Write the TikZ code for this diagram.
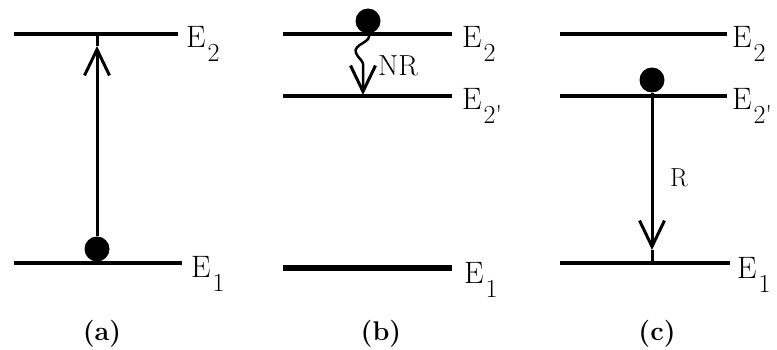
\documentclass[tikz,border=0pt]{standalone}
\usetikzlibrary{arrows.meta}
\newcommand{\lsub}[1]{\hspace{2pt}\raisebox{-14pt}{\fontsize{26}{26}\selectfont #1}}
\begin{document}
\begin{tikzpicture}[x=1pt,y=-1pt,
  level/.style={line width=3.5pt},
  thicklevel/.style={line width=6pt},
  trans/.style={line width=3pt},
  wavy/.style={line width=2.5pt},
  dot/.style={circle,fill=black,inner sep=0pt,minimum size=25pt},
  elabel/.style={anchor=base west,inner sep=0pt,font=\fontsize{31}{31}\selectfont},
  plabel/.style={anchor=base,inner sep=0pt,font=\bfseries\fontsize{27}{27}\selectfont},
  tlabel/.style={anchor=base west,inner sep=0pt},
  barb/.style={-{Straight Barb[length=26pt,width=25pt,line width=3pt]}}
]
\useasboundingbox (0,0) rectangle (777,350);

% ---------- panel (a)
\coordinate (a2l) at (14,34);  \coordinate (a2r) at (178,34);
\coordinate (a1l) at (14,263); \coordinate (a1r) at (182,263);
\draw[level] (a2l) -- (a2r);
\draw[level] (a1l) -- (a1r);
\node[elabel] (la2) at (186,48) {E\lsub{2}};
\node[elabel] (la1) at (191,277) {E\lsub{1}};
\node[dot] (dA) at (97,249) {};
\coordinate (hA) at (97,46);
\coordinate (tA) at (97,34);
\draw[trans,barb] (dA) -- (hA);
\draw[trans] (hA) -- (tA);
\node[plabel] (pa) at (102,340) {(a)};

% ---------- panel (b)
\coordinate (b2l) at (283,34);  \coordinate (b2r) at (452,34);
\coordinate (bpl) at (283,96);  \coordinate (bpr) at (452,96);
\coordinate (b1l) at (283,268); \coordinate (b1r) at (452,268);
\draw[level] (b2l) -- (b2r);
\draw[level] (bpl) -- (bpr);
\draw[thicklevel] (b1l) -- (b1r);
\node[elabel] (lb2) at (462,48) {E\lsub{2}};
\node[elabel] (lbp) at (462,110) {E\lsub{2\textquotesingle}};
\node[elabel] (lb1) at (464,283) {E\lsub{1}};
\node[dot] (dB) at (368,21) {};
\coordinate (wB) at (363,67);
\coordinate (tB) at (363,95);
\draw[wavy,barb] (dB.south) .. controls (374,42) and (352,44) .. (356,53)
      .. controls (359,60) and (364,60) .. (wB) -- (tB);
\node[tlabel,font=\fontsize{29}{29}\selectfont] (nr) at (378,76) {NR};
\node[plabel] (pb) at (381,340) {(b)};

% ---------- panel (c)
\coordinate (c2l) at (560,34);  \coordinate (c2r) at (727,34);
\coordinate (cpl) at (560,96);  \coordinate (cpr) at (727,96);
\coordinate (c1l) at (560,263); \coordinate (c1r) at (730,263);
\draw[level] (c2l) -- (c2r);
\draw[level] (cpl) -- (cpr);
\draw[level] (c1l) -- (c1r);
\node[elabel] (lc2) at (732,48) {E\lsub{2}};
\node[elabel] (lcp) at (732,110) {E\lsub{2\textquotesingle}};
\node[elabel] (lc1) at (737,278) {E\lsub{1}};
\node[dot] (dC) at (652,80) {};
\coordinate (hC) at (652,250);
\coordinate (tC) at (652,263);
\draw[trans,barb] (dC) -- (hC);
\draw[trans] (hC) -- (tC);
\node[tlabel,font=\fontsize{26}{26}\selectfont] (r) at (670,187) {R};
\node[plabel] (pc) at (657,340) {(c)};
\end{tikzpicture}
\end{document}
